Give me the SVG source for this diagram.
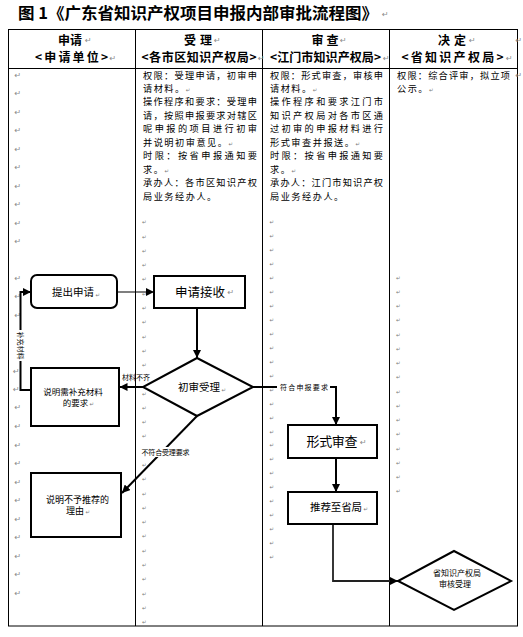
<svg xmlns="http://www.w3.org/2000/svg" width="523" height="637" viewBox="0 0 523 637">
<style>
text{font-family:"Noto Sans CJK SC","Noto Sans",sans-serif;fill:#000}
.title{font-size:16px;font-weight:bold}
.hd{font-size:12px;font-weight:bold}
.bd{font-size:9.2px}
.bp{font-size:9.2px;letter-spacing:1.5px}
.pm{font-family:"DejaVu Sans",sans-serif;fill:#8a8a8a;font-size:8px}
.pms{font-family:"DejaVu Sans",sans-serif;fill:#7a7a7a;font-size:5.5px}
.grid{fill:none;stroke:#000;stroke-width:1}
.node{fill:#fff;stroke:#000;stroke-width:2}
.conn{fill:none;stroke:#000;stroke-width:2;marker-end:url(#ah)}
.lbl{font-size:7px}
.bg{fill:#fff}
</style>
<defs>
<marker id="ah" viewBox="0 0 10 10" refX="10" refY="5" markerWidth="8" markerHeight="8" markerUnits="userSpaceOnUse" orient="auto"><path d="M0,0 L10,5 L0,10 z" fill="#000"/></marker>
</defs>
<rect width="523" height="637" fill="#fff"/>
<g id="title">
<text class="title" x="18" y="18.5" textLength="360" lengthAdjust="spacingAndGlyphs">图 1《广东省知识产权项目申报内部审批流程图》</text>
<text class="pm" x="382" y="17">↵</text>
</g>
<g id="table">
<rect class="grid" x="8.5" y="29.5" width="509" height="596.5"/>
<line class="grid" x1="8.5" y1="68.5" x2="517.5" y2="68.5"/>
<line class="grid" x1="135.5" y1="29.5" x2="135.5" y2="626"/>
<line class="grid" x1="262.5" y1="29.5" x2="262.5" y2="626"/>
<line class="grid" x1="389.5" y1="29.5" x2="389.5" y2="626"/>
</g>
<g id="headers">
<text class="hd" x="58" y="44.5" textLength="24">申请</text>
<text class="hd" x="35" y="61.8" textLength="73">&lt;申请单位&gt;</text>
<text class="hd" x="184" y="44.5" textLength="28">受理</text>
<text class="hd" x="141.5" y="61.8" textLength="115">&lt;各市区知识产权局&gt;</text>
<text class="hd" x="311.5" y="44.5" textLength="27">审查</text>
<text class="hd" x="270" y="61.8" textLength="111">&lt;江门市知识产权局&gt;</text>
<text class="hd" x="438" y="44.5" textLength="28">决定</text>
<text class="hd" x="401.5" y="61.8" textLength="102">&lt;省知识产权局&gt;</text>
<text class="pm" x="85" y="43">↵</text>
<text class="pm" x="109.5" y="60.5">↵</text>
<text class="pm" x="214" y="43">↵</text>
<text class="pm" x="258" y="60.5">↵</text>
<text class="pm" x="340" y="43">↵</text>
<text class="pm" x="383" y="60.5">↵</text>
<text class="pm" x="469" y="43">↵</text>
<text class="pm" x="506" y="60.5">↵</text>
<text class="pm" x="515.5" y="43">↵</text>
</g>
<g id="col2-text">
<text class="bd" x="143" y="78.5" textLength="114">权限：受理申请，初审申</text>
<text class="bp" x="143" y="91.9">请材料。<tspan class="pms">↵</tspan></text>
<text class="bd" x="143" y="105.4" textLength="114">操作程序和要求：受理申</text>
<text class="bd" x="143" y="118.8" textLength="114">请，按照申报要求对辖区</text>
<text class="bd" x="143" y="132.3" textLength="114">呢申报的项目进行初审</text>
<text class="bp" x="143" y="145.7">并说明初审意见。<tspan class="pms">↵</tspan></text>
<text class="bd" x="143" y="159.2" textLength="114">时限：按省申报通知要</text>
<text class="bp" x="143" y="172.6">求。<tspan class="pms">↵</tspan></text>
<text class="bd" x="143" y="186.1" textLength="114">承办人：各市区知识产权</text>
<text class="bp" x="143" y="199.5">局业务经办人。</text>
</g>
<g id="col3-text">
<text class="bd" x="270" y="78.5" textLength="113">权限：形式审查，审核申</text>
<text class="bp" x="270" y="91.9">请材料。<tspan class="pms">↵</tspan></text>
<text class="bd" x="270" y="105.4" textLength="113">操作程序和要求江门市</text>
<text class="bd" x="270" y="118.8" textLength="113">知识产权局对各市区通</text>
<text class="bd" x="270" y="132.3" textLength="113">过初审的申报材料进行</text>
<text class="bp" x="270" y="145.7">形式审查并报送。<tspan class="pms">↵</tspan></text>
<text class="bd" x="270" y="159.2" textLength="113">时限：按省申报通知要</text>
<text class="bp" x="270" y="172.6">求。<tspan class="pms">↵</tspan></text>
<text class="bd" x="270" y="186.1" textLength="113">承办人：江门市知识产权</text>
<text class="bp" x="270" y="199.5">局业务经办人。</text>
</g>
<g id="col4-text">
<text class="bd" x="397" y="78.5" textLength="113">权限：综合评审，拟立项</text>
<text class="bp" x="397" y="91.9">公示。<tspan class="pms">↵</tspan></text>
<text class="pm" x="515.5" y="78">↵</text>
</g>
<g id="marks-col1">
<text class="pm"><tspan x="14.5" y="77.5">↵</tspan><tspan x="14.5" y="96">↵</tspan><tspan x="14.5" y="114.5">↵</tspan><tspan x="14.5" y="133">↵</tspan><tspan x="14.5" y="151.5">↵</tspan><tspan x="14.5" y="170">↵</tspan><tspan x="14.5" y="188.5">↵</tspan><tspan x="14.5" y="207">↵</tspan><tspan x="14.5" y="225.5">↵</tspan><tspan x="14.5" y="244">↵</tspan><tspan x="14.5" y="280.5">↵</tspan><tspan x="14.5" y="299">↵</tspan><tspan x="14.5" y="317.5">↵</tspan><tspan x="13" y="374">↵</tspan><tspan x="13" y="392">↵</tspan><tspan x="14.5" y="409.5">↵</tspan><tspan x="14.5" y="429">↵</tspan><tspan x="14.5" y="447.5">↵</tspan><tspan x="14.5" y="466">↵</tspan><tspan x="14.5" y="484.5">↵</tspan><tspan x="14.5" y="503">↵</tspan><tspan x="14.5" y="521.5">↵</tspan><tspan x="14.5" y="540">↵</tspan><tspan x="14.5" y="558.5">↵</tspan><tspan x="14.5" y="577">↵</tspan><tspan x="14.5" y="595.5">↵</tspan></text>
</g>
<g id="marks-col2">
<text class="pms"><tspan x="142" y="224.2">↵</tspan><tspan x="142" y="238.5">↵</tspan><tspan x="142" y="252.8">↵</tspan><tspan x="142" y="267">↵</tspan><tspan x="142" y="281.3">↵</tspan><tspan x="142" y="295.6">↵</tspan><tspan x="142" y="309.9">↵</tspan><tspan x="142" y="324.2">↵</tspan><tspan x="142" y="338.5">↵</tspan><tspan x="142" y="352.7">↵</tspan><tspan x="142" y="367">↵</tspan><tspan x="142" y="395.6">↵</tspan><tspan x="142" y="409.9">↵</tspan><tspan x="142" y="424.2">↵</tspan><tspan x="142" y="438.4">↵</tspan><tspan x="142" y="467">↵</tspan><tspan x="142" y="481.3">↵</tspan><tspan x="142" y="495.6">↵</tspan><tspan x="142" y="509.8">↵</tspan><tspan x="142" y="524.1">↵</tspan><tspan x="142" y="538.4">↵</tspan><tspan x="142" y="552.7">↵</tspan><tspan x="142" y="567">↵</tspan><tspan x="142" y="581.3">↵</tspan><tspan x="142" y="595.5">↵</tspan><tspan x="142" y="609.8">↵</tspan><tspan x="142" y="623.6">↵</tspan></text>
</g>
<g id="marks-col3">
<text class="pms"><tspan x="269.5" y="224.2">↵</tspan><tspan x="269.5" y="238.1">↵</tspan><tspan x="269.5" y="252.1">↵</tspan><tspan x="269.5" y="266">↵</tspan><tspan x="269.5" y="280">↵</tspan><tspan x="269.5" y="293.9">↵</tspan><tspan x="269.5" y="307.9">↵</tspan><tspan x="269.5" y="321.9">↵</tspan><tspan x="269.5" y="335.8">↵</tspan><tspan x="269.5" y="349.8">↵</tspan><tspan x="269.5" y="363.7">↵</tspan><tspan x="269.5" y="377.7">↵</tspan><tspan x="269.5" y="391.6">↵</tspan><tspan x="269.5" y="405.6">↵</tspan><tspan x="269.5" y="419.5">↵</tspan><tspan x="269.5" y="433.5">↵</tspan><tspan x="269.5" y="447.4">↵</tspan><tspan x="269.5" y="461.4">↵</tspan><tspan x="269.5" y="475.3">↵</tspan><tspan x="269.5" y="489.3">↵</tspan><tspan x="269.5" y="503.2">↵</tspan><tspan x="269.5" y="517.2">↵</tspan><tspan x="269.5" y="531.1">↵</tspan><tspan x="269.5" y="545.1">↵</tspan><tspan x="269.5" y="559">↵</tspan></text>
</g>
<g id="marks-col4">
<text class="pms"><tspan x="396" y="279.5">↵</tspan><tspan x="396" y="293.8">↵</tspan><tspan x="396" y="308">↵</tspan><tspan x="396" y="322.3">↵</tspan><tspan x="396" y="336.5">↵</tspan><tspan x="396" y="350.8">↵</tspan><tspan x="396" y="365">↵</tspan><tspan x="396" y="379.3">↵</tspan><tspan x="396" y="393.5">↵</tspan><tspan x="396" y="407.8">↵</tspan><tspan x="396" y="422">↵</tspan><tspan x="396" y="436.3">↵</tspan><tspan x="396" y="450.5">↵</tspan><tspan x="396" y="464.8">↵</tspan><tspan x="396" y="479">↵</tspan><tspan x="396" y="493.3">↵</tspan></text>
</g>
<g id="connectors">
<path class="conn" style="stroke-width:1.2" d="M117,292 H154"/>
<path class="conn" d="M197,308 V358"/>
<path class="conn" d="M143,387 H119.5"/>
<text class="lbl" x="122" y="379.5" textLength="28">材料不齐</text>
<path class="conn" d="M31,390 H20.5 V292 H31"/>
<rect class="bg" x="15.5" y="330" width="10" height="31"/>
<text class="lbl" transform="translate(20.5,345.5) rotate(90)" text-anchor="middle" y="2.5">补充材料</text>
<path class="conn" d="M197,416 L122,493"/>
<rect class="bg" x="140" y="447" width="52" height="10"/>
<text class="lbl" x="141.5" y="454.5" textLength="48">不符合受理要求</text>
<path class="conn" d="M253,387 H336 V425"/>
<rect class="bg" x="277" y="382" width="53" height="10"/>
<text class="lbl" x="280" y="389.5" textLength="48">符合申报要求</text>
<path class="conn" d="M336,458 V492"/>
<path class="conn" style="stroke:#222;stroke-width:1.8" d="M333,524 V581 H398"/>
</g>
<g id="node-submit">
<rect class="node" x="31" y="275" width="86" height="33" rx="6"/>
<text x="52" y="296" font-size="10.5" textLength="42">提出申请</text>
<text class="pms" x="95.5" y="297">↵</text>
</g>
<g id="node-receive">
<rect class="node" x="154" y="276" width="91" height="32"/>
<text x="175" y="296.7" font-size="12.5" textLength="50">申请接收</text>
<text class="pm" x="227.5" y="295">↵</text>
</g>
<g id="node-initial-review">
<polygon class="node" points="197,358 253,387 197,416 143,387"/>
<text x="178" y="391" font-size="10.5" textLength="42">初审受理</text>
<text class="pms" x="221.5" y="392">↵</text>
</g>
<g id="node-supplement">
<rect class="node" x="31" y="368" width="88" height="58"/>
<text x="73" y="394.5" font-size="8.5" text-anchor="middle">说明需补充材料</text>
<text x="75.5" y="405.5" font-size="8.5" text-anchor="middle">的要求</text>
<text class="pms" x="89.5" y="405.5">↵</text>
</g>
<g id="node-reject">
<rect class="node" x="31" y="473" width="90" height="64"/>
<text x="77.5" y="502.5" font-size="9" text-anchor="middle">说明不予推荐的</text>
<text x="75" y="514" font-size="9" text-anchor="middle">理由</text>
<text class="pms" x="85.5" y="514">↵</text>
</g>
<g id="node-formal-review">
<rect class="node" x="288" y="425" width="89" height="33"/>
<text x="306.5" y="445.5" font-size="13" textLength="51">形式审查</text>
<text class="pm" x="360" y="444.5">↵</text>
</g>
<g id="node-recommend">
<rect class="node" x="288" y="492" width="89" height="32"/>
<text x="310" y="510.5" font-size="10.5" textLength="52">推荐至省局</text>
<text class="pms" x="363.5" y="511">↵</text>
</g>
<g id="node-province">
<polygon class="node" points="454,551 511,581 454,610 398,581"/>
<text x="457" y="575.5" font-size="8" text-anchor="middle">省知识产权局</text>
<text x="455" y="586.5" font-size="8" text-anchor="middle">审核受理</text>
</g>
</svg>
